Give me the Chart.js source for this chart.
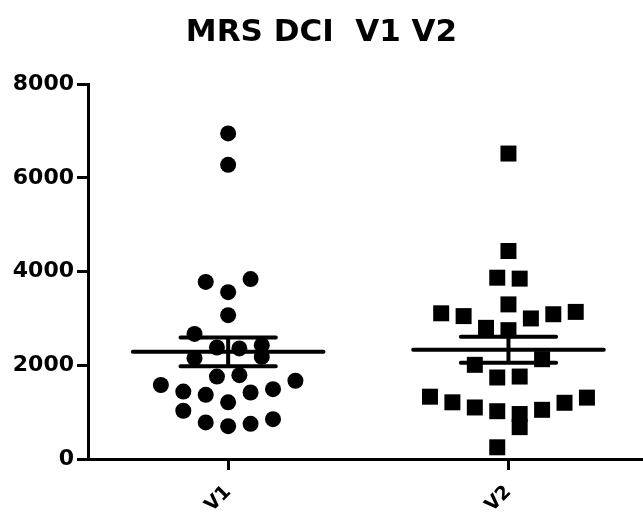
<!DOCTYPE html>
<html>
<head>
<meta charset="utf-8">
<title>MRS DCI V1 V2</title>
<script src="https://cdn.jsdelivr.net/npm/chart.js@4.4.1/dist/chart.umd.min.js"></script>
<style>
  html, body { margin: 0; padding: 0; background: #fff; }
  #wrap { width: 643px; height: 522px; }
</style>
</head>
<body>
<div id="wrap"><canvas id="dci-chart" width="643" height="522"></canvas></div>
<script>
// groups on the x axis
const categories = ['V1', 'V2'];

// MRS DCI values
const v1Values = [6950, 6280, 3780, 3840, 3560, 3070, 2670, 2380, 2360, 2430, 2150, 2180, 1760,
  1790, 1580, 1670, 1440, 1370, 1420, 1490, 1210, 1030, 780, 700, 750, 850];
const v2Values = [6520, 4440, 3870, 3850, 3300, 3110, 3050, 3000, 3090, 3140, 2800, 2750, 2010,
  2130, 1740, 1760, 1330, 1210, 1100, 1020, 960, 680, 1050, 1200, 1310, 250];

// column slot of each dot inside its group (scatter dot plot spread)
const v1Spread = [0, 0, -2, 2, 0, 0, -3, -1, 1, 3, -3, 3, -1, 1, -6, 6, -4, -2, 2, 4, 0, -4, -2, 0, 2, 4];
const v2Spread = [0, 0, -1, 1, 0, -6, -4, 2, 4, 6, -2, 0, -3, 3, -1, 1, -7, -5, -3, -1, 1, 1, 3, 5, 7, -1];

const yTicks = [0, 2000, 4000, 6000, 8000];

const SLOT = 0.04;     // width of one spread slot in x units
const MEAN_HALF = 0.34;
const SEM_HALF = 0.17;
const FONT = '"DejaVu Sans", "Liberation Sans", Arial, sans-serif';

const mean = arr => arr.reduce((a, b) => a + b, 0) / arr.length;
const sem = arr => {
  const m = mean(arr);
  const v = arr.reduce((a, b) => a + (b - m) * (b - m), 0) / (arr.length - 1);
  return Math.sqrt(v / arr.length);
};

const toPoints = (values, spread, pos) =>
  values.map((v, i) => ({ x: pos + spread[i] * SLOT, y: v }));

// mean line + sem whiskers, segments split by null
const meanSemLines = groups => {
  let pts = [];
  groups.forEach((vals, i) => {
    const pos = i + 1;
    const m = mean(vals);
    const s = sem(vals);
    pts.push({ x: pos - MEAN_HALF, y: m }, { x: pos + MEAN_HALF, y: m }, { x: pos, y: null });
    pts.push({ x: pos - SEM_HALF, y: m + s }, { x: pos + SEM_HALF, y: m + s }, { x: pos, y: null });
    pts.push({ x: pos - SEM_HALF, y: m - s }, { x: pos + SEM_HALF, y: m - s }, { x: pos, y: null });
    pts.push({ x: pos, y: m - s }, { x: pos, y: m + s }, { x: pos, y: null });
  });
  return pts;
};

const noPadding = scale => {
  scale.paddingLeft = 0;
  scale.paddingRight = 0;
  scale.paddingTop = 0;
  scale.paddingBottom = 0;
};

const ctx = document.getElementById('dci-chart');
const myChart = new Chart(ctx, {
  type: 'scatter',
  data: {
    datasets: [
      {
        label: 'mean ± SEM',
        data: meanSemLines([v1Values, v2Values]),
        showLine: true,
        spanGaps: false,
        pointRadius: 0,
        borderColor: '#000',
        borderWidth: 4,
        borderCapStyle: 'round',
        clip: false,
      },
      {
        label: categories[0],
        data: toPoints(v1Values, v1Spread, 1),
        pointStyle: 'circle',
        pointRadius: 8,
        borderWidth: 0,
        backgroundColor: '#000',
        clip: false,
      },
      {
        label: categories[1],
        data: toPoints(v2Values, v2Spread, 2),
        pointStyle: 'rect',
        pointRadius: 11.3,
        borderWidth: 0,
        backgroundColor: '#000',
        clip: false,
      },
    ]
  },
  options: {
    responsive: false,
    animation: false,
    events: [],
    layout: { padding: 0, autoPadding: false },
    plugins: {
      legend: { display: false },
      tooltip: { enabled: false },
      title: {
        display: true,
        text: 'MRS DCI  V1 V2',
        color: '#000',
        font: { family: FONT, size: 31, weight: 'bold' },
        padding: { top: 14, bottom: 33 },
      }
    },
    scales: {
      x: {
        type: 'linear',
        min: 0.5,
        max: 2.48,
        afterBuildTicks: scale => {
          scale.ticks = categories.map((c, i) => ({ value: i + 1 }));
        },
        afterFit: scale => {
          scale.height = 63;
          noPadding(scale);
        },
        ticks: {
          color: '#000',
          font: { family: FONT, size: 19, weight: 'bold' },
          minRotation: 45,
          maxRotation: 45,
          padding: 11,
          callback: v => categories[v - 1],
        },
        grid: {
          drawOnChartArea: false,
          tickLength: 11,
          tickWidth: 3,
          tickColor: '#000',
        },
        border: { display: true, color: '#000', width: 3 },
      },
      y: {
        min: 0,
        max: 8000,
        afterBuildTicks: scale => {
          scale.ticks = yTicks.map(v => ({ value: v }));
        },
        afterFit: scale => {
          scale.width = 88;
          noPadding(scale);
        },
        ticks: {
          color: '#000',
          font: { family: FONT, size: 22, weight: 'bold' },
          padding: 3,
          callback: v => String(v),
        },
        grid: {
          drawOnChartArea: false,
          tickLength: 11,
          tickWidth: 3,
          tickColor: '#000',
        },
        border: { display: true, color: '#000', width: 3 },
      }
    }
  }
});
</script>
</body>
</html>
